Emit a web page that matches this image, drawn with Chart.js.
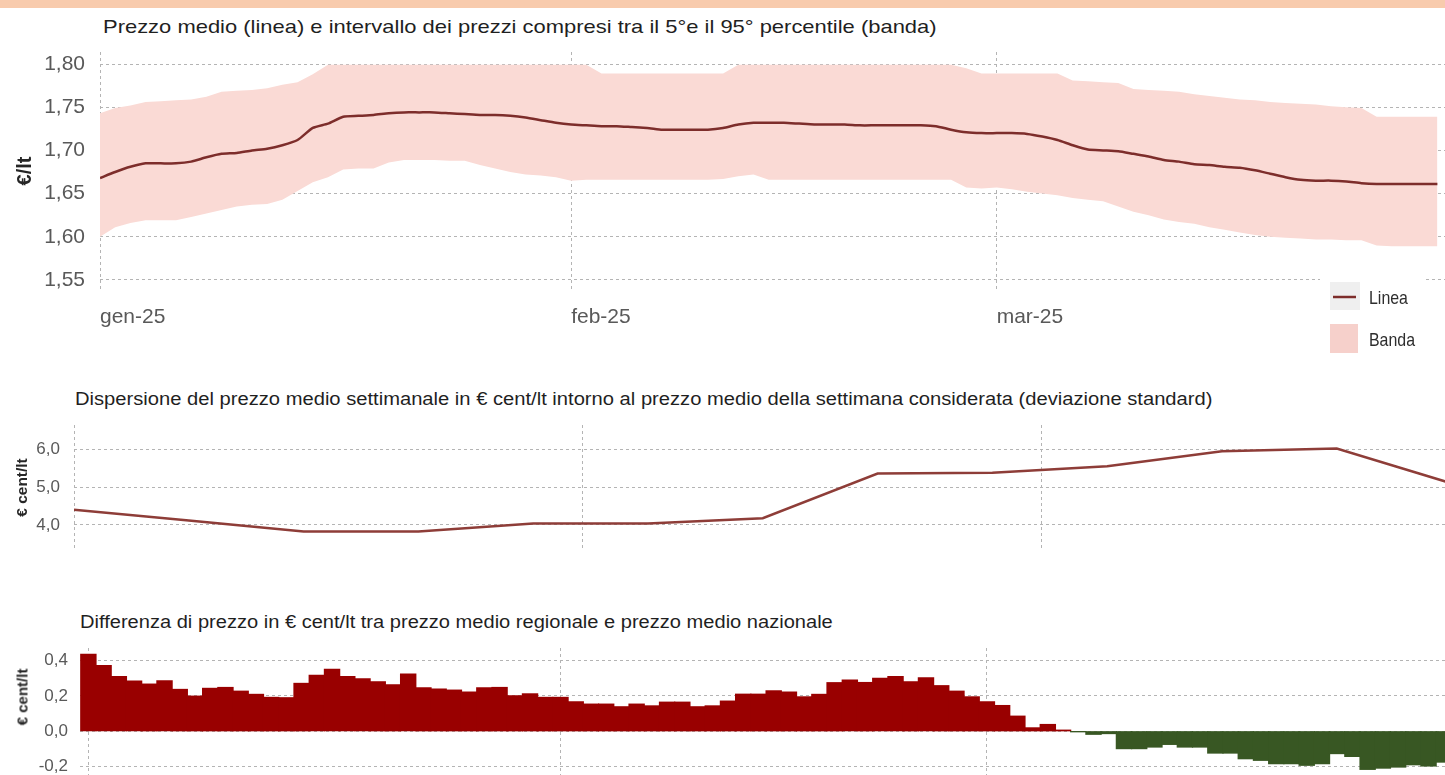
<!DOCTYPE html>
<html lang="it">
<head>
<meta charset="utf-8">
<title>Prezzi medi carburante</title>
<script src="https://cdn.jsdelivr.net/npm/chart.js@4.4.1/dist/chart.umd.min.js"></script>
<style>
  html, body { margin: 0; padding: 0; background: #fff; overflow: hidden; }
  body { width: 1445px; height: 775px; position: relative; font-family: "Liberation Sans", Arial, sans-serif; }
  .fascia { position: absolute; left: 0; top: 0; width: 1445px; height: 8px; background: #f8cbad; }
  .titolo { position: absolute; color: #1f1f1f; white-space: nowrap; line-height: 22px; transform-origin: 0 50%; }
  #t1 { left: 103px; top: 16px; font-size: 19px; transform: scaleX(1.155); }
  #t2 { left: 75px; top: 388px; font-size: 17.5px; transform: scaleX(1.152); }
  #t3 { left: 80px; top: 611px; font-size: 17.5px; transform: scaleX(1.147); }
  .asse { position: absolute; font-weight: bold; color: #262626; white-space: nowrap; transform: translate(-50%, -50%) rotate(-90deg); }
  #a3 { left: 22px; top: 697px; font-size: 15px; }
  .box { position: absolute; left: 0; width: 1445px; }
  #b1 { top: 40px; height: 330px; }
  #b2 { top: 415px; height: 145px; }
  #b3 { top: 640px; height: 135px; }
</style>
</head>
<body>
<div class="fascia"></div>
<div class="titolo" id="t1">Prezzo medio (linea) e intervallo dei prezzi compresi tra il 5°e il 95° percentile (banda)</div>
<div class="box" id="b1"><canvas id="prezzo"></canvas></div>
<div class="titolo" id="t2">Dispersione del prezzo medio settimanale in € cent/lt intorno al prezzo medio della settimana considerata (deviazione standard)</div>
<div class="box" id="b2"><canvas id="dispersione"></canvas></div>
<div class="titolo" id="t3">Differenza di prezzo in € cent/lt tra prezzo medio regionale e prezzo medio nazionale</div>
<div class="box" id="b3"><canvas id="differenza"></canvas></div>
<div class="asse" id="a3">€ cent/lt</div>

<script>
// inizio mese (giorni dal 1 gennaio) ed etichette
const giorniMese = [0, 31, 59];
const etichetteMese = ['gen-25', 'feb-25', 'mar-25'];

const tickPrezzo = [1.55, 1.60, 1.65, 1.70, 1.75, 1.80];
const tickDispersione = [4, 5, 6];
const tickDifferenza = [-0.2, 0, 0.2, 0.4];

// prezzo medio giornaliero €/lt, 1 gen - 30 mar
const prezzoMedio = [
  1.668, 1.675, 1.681, 1.685, 1.685, 1.685, 1.687, 1.692, 1.696, 1.697,
  1.700, 1.702, 1.706, 1.712, 1.726, 1.731, 1.739, 1.740, 1.741, 1.743,
  1.744, 1.744, 1.744, 1.743, 1.742, 1.741, 1.741, 1.740, 1.738, 1.735,
  1.732, 1.730, 1.729, 1.728, 1.728, 1.727, 1.726, 1.724, 1.724, 1.724,
  1.724, 1.726, 1.730, 1.732, 1.732, 1.732, 1.731, 1.730, 1.730, 1.730,
  1.729, 1.729, 1.729, 1.729, 1.729, 1.728, 1.724, 1.721, 1.720, 1.720,
  1.720, 1.719, 1.716, 1.712, 1.706, 1.701, 1.700, 1.699, 1.696, 1.693,
  1.689, 1.687, 1.684, 1.683, 1.681, 1.680, 1.677, 1.673, 1.669, 1.666,
  1.665, 1.665, 1.664, 1.662, 1.661, 1.661, 1.661, 1.661, 1.661
];

// 95° percentile
const banda95 = [
  1.743, 1.749, 1.752, 1.756, 1.757, 1.758, 1.759, 1.762, 1.768, 1.769,
  1.770, 1.772, 1.776, 1.779, 1.788, 1.799, 1.799, 1.799, 1.799, 1.799,
  1.799, 1.799, 1.799, 1.799, 1.799, 1.799, 1.799, 1.799, 1.799, 1.799,
  1.799, 1.799, 1.799, 1.789, 1.789, 1.789, 1.789, 1.789, 1.789, 1.789,
  1.789, 1.789, 1.799, 1.799, 1.799, 1.799, 1.799, 1.799, 1.799, 1.799,
  1.799, 1.799, 1.799, 1.799, 1.799, 1.799, 1.799, 1.795, 1.789, 1.789,
  1.789, 1.789, 1.789, 1.789, 1.781, 1.780, 1.779, 1.778, 1.771, 1.770,
  1.769, 1.768, 1.765, 1.763, 1.761, 1.759, 1.758, 1.756, 1.755, 1.754,
  1.753, 1.751, 1.750, 1.749, 1.739, 1.739, 1.739, 1.739, 1.739
];

// 5° percentile
const banda5 = [
  1.600, 1.611, 1.616, 1.619, 1.619, 1.619, 1.623, 1.627, 1.631, 1.635,
  1.637, 1.638, 1.643, 1.653, 1.663, 1.669, 1.678, 1.679, 1.679, 1.686,
  1.689, 1.689, 1.689, 1.688, 1.688, 1.683, 1.679, 1.675, 1.672, 1.671,
  1.669, 1.665, 1.666, 1.666, 1.666, 1.666, 1.666, 1.666, 1.666, 1.666,
  1.666, 1.667, 1.670, 1.672, 1.666, 1.666, 1.666, 1.666, 1.666, 1.666,
  1.666, 1.666, 1.666, 1.666, 1.666, 1.666, 1.666, 1.657, 1.656, 1.657,
  1.655, 1.652, 1.650, 1.648, 1.645, 1.643, 1.641, 1.635, 1.629, 1.625,
  1.620, 1.617, 1.615, 1.611, 1.608, 1.605, 1.602, 1.600, 1.599, 1.598,
  1.597, 1.597, 1.596, 1.596, 1.590, 1.589, 1.589, 1.589, 1.589
];

// deviazione standard settimanale (€ cent/lt)
const settimane = [0, 7, 14, 21, 28, 35, 42, 49, 56, 63, 70, 77, 84];
const deviazioneStd = [4.40, 4.12, 3.83, 3.83, 4.04, 4.04, 4.18, 5.36, 5.38, 5.55, 5.95, 6.02, 5.10];

// differenza regionale - nazionale (€ cent/lt), 1 gen - 31 mar
const differenza = [
  0.434, 0.370, 0.308, 0.283, 0.266, 0.285, 0.236, 0.198, 0.242, 0.247,
  0.226, 0.208, 0.191, 0.189, 0.270, 0.315, 0.349, 0.308, 0.296, 0.279,
  0.262, 0.323, 0.245, 0.238, 0.232, 0.221, 0.245, 0.247, 0.200, 0.211,
  0.191, 0.191, 0.166, 0.153, 0.153, 0.138, 0.153, 0.143, 0.164, 0.164,
  0.138, 0.143, 0.170, 0.209, 0.209, 0.228, 0.221, 0.194, 0.208, 0.274,
  0.289, 0.275, 0.298, 0.308, 0.279, 0.302, 0.257, 0.226, 0.194, 0.166,
  0.145, 0.085, 0.019, 0.038, 0.006, -0.002, -0.017, -0.013, -0.098, -0.098,
  -0.089, -0.074, -0.089, -0.089, -0.123, -0.123, -0.155, -0.164, -0.183, -0.183,
  -0.192, -0.183, -0.126, -0.142, -0.215, -0.208, -0.202, -0.189, -0.196, -0.174
];

const ROSSO_LINEA = '#7d2d2b';
const ROSA_BANDA = '#fadad5';
const GRIGIO_TICK = '#595959';
const FONT = "'Liberation Sans', Arial, sans-serif";

Chart.defaults.font.family = FONT;
Chart.defaults.animation = false;

const xy = (xs, ys) => ys.map((y, i) => ({ x: xs[i], y }));
const giorni = prezzoMedio.map((_, i) => i);
const giorniDiff = differenza.map((_, i) => i);

const senzaPadding = s => { s.paddingTop = 0; s.paddingBottom = 0; s.paddingLeft = 0; s.paddingRight = 0; };

const grigliaTratteggiata = { color: '#b4b4b4', lineWidth: 1, drawTicks: false, offset: false };
const bordoTratteggiato = { display: false, dash: [3, 3] };

function asseMesi(min, max, altezza, etichette) {
  return {
    type: 'linear',
    min, max,
    offset: false,
    afterBuildTicks: s => { s.ticks = giorniMese.map(v => ({ value: v })); },
    afterFit: s => { s.height = altezza; senzaPadding(s); },
    grid: grigliaTratteggiata,
    border: bordoTratteggiato,
    ticks: {
      display: etichette,
      align: 'start',
      autoSkip: false,
      maxRotation: 0,
      padding: 15,
      color: GRIGIO_TICK,
      font: { size: 21 },
      callback: v => etichetteMese[giorniMese.indexOf(v)]
    }
  };
}

function asseValori(min, max, tick, decimali, larghezza, cfg) {
  return {
    min, max,
    afterBuildTicks: s => { s.ticks = tick.map(v => ({ value: v })); },
    afterFit: s => { s.width = larghezza; senzaPadding(s); },
    grid: grigliaTratteggiata,
    border: bordoTratteggiato,
    ticks: {
      padding: cfg.padding,
      color: GRIGIO_TICK,
      font: { size: cfg.size },
      callback: v => v.toFixed(decimali).replace('.', ',')
    },
    title: {
      display: !!cfg.titolo,
      text: cfg.titolo,
      color: '#262626',
      font: { size: cfg.titoloSize, weight: 'bold' },
      padding: { top: cfg.titoloPad, bottom: 0 }
    }
  };
}

// legenda disegnata dentro l'area del grafico, in basso a destra
const legendaPrezzo = {
  id: 'legendaPrezzo',
  afterDraw(chart) {
    const { ctx, chartArea: a } = chart;
    const x = a.right, y = a.bottom;
    ctx.save();
    ctx.fillStyle = '#ffffff';
    ctx.fillRect(x - 125, y - 12, 103, 82);
    ctx.fillStyle = '#efefef';
    ctx.fillRect(x - 115, y - 8, 30, 28);
    ctx.strokeStyle = ROSSO_LINEA;
    ctx.lineWidth = 2.5;
    ctx.beginPath();
    ctx.moveTo(x - 112, y + 7);
    ctx.lineTo(x - 89, y + 7);
    ctx.stroke();
    ctx.fillStyle = '#f6d0cb';
    ctx.fillRect(x - 115, y + 34, 28, 29);
    ctx.fillStyle = '#2e2e2e';
    ctx.font = '18.5px ' + FONT;
    ctx.textBaseline = 'middle';
    // testo stretto come nell'Arial Narrow
    [['Linea', y + 9], ['Banda', y + 51]].forEach(([t, ty]) => {
      ctx.save();
      ctx.translate(x - 76, ty);
      ctx.scale(0.86, 1);
      ctx.fillText(t, 0, 0);
      ctx.restore();
    });
    ctx.restore();
  }
};

const comuni = {
  responsive: true,
  maintainAspectRatio: false,
  events: [],
  plugins: { legend: { display: false }, tooltip: { enabled: false } }
};

new Chart(document.getElementById('prezzo'), {
  type: 'line',
  data: {
    datasets: [
      {
        label: 'Linea',
        data: xy(giorni, prezzoMedio),
        borderColor: ROSSO_LINEA,
        borderWidth: 2.5,
        pointRadius: 0,
        tension: 0.2,
        fill: false
      },
      {
        label: 'Banda',
        data: xy(giorni, banda95),
        borderWidth: 0,
        borderColor: 'rgba(0,0,0,0)',
        backgroundColor: ROSA_BANDA,
        pointRadius: 0,
        fill: '+1'
      },
      {
        label: '5° percentile',
        data: xy(giorni, banda5),
        borderWidth: 0,
        borderColor: 'rgba(0,0,0,0)',
        pointRadius: 0,
        fill: false
      }
    ]
  },
  options: {
    ...comuni,
    layout: { padding: { top: 12, right: 0, bottom: 0, left: 0 } },
    scales: {
      x: asseMesi(0, 88.5, 80, true),
      y: asseValori(1.5384, 1.8139, tickPrezzo, 2, 100,
        { padding: 15, size: 21, titolo: '€/lt', titoloSize: 20, titoloPad: 13 })
    }
  },
  plugins: [legendaPrezzo]
});

new Chart(document.getElementById('dispersione'), {
  type: 'line',
  data: {
    datasets: [{
      label: 'Deviazione standard',
      data: xy(settimane, deviazioneStd),
      borderColor: '#8e3d38',
      borderWidth: 2.5,
      pointRadius: 0,
      tension: 0,
      fill: false
    }]
  },
  options: {
    ...comuni,
    layout: { padding: { top: 10, right: 0, bottom: 10, left: 0 } },
    scales: {
      x: asseMesi(0, 83.6, 0, false),
      y: asseValori(3.34, 6.64, tickDispersione, 1, 74,
        { padding: 14, size: 17, titolo: '€ cent/lt', titoloSize: 15.5, titoloPad: 13 })
    }
  }
});

new Chart(document.getElementById('differenza'), {
  type: 'bar',
  data: {
    datasets: [{
      label: 'Differenza',
      data: xy(giorniDiff, differenza),
      backgroundColor: differenza.map(v => v >= 0 ? '#990000' : '#385723'),
      borderWidth: 0,
      inflateAmount: 0.6,
      barPercentage: 1,
      categoryPercentage: 1
    }]
  },
  options: {
    ...comuni,
    layout: { padding: { top: 8, right: 0, bottom: 0, left: 0 } },
    scales: {
      x: asseMesi(-0.55, 89.08, 0, false),
      y: asseValori(-0.247, 0.47, tickDifferenza, 1, 80,
        { padding: 12, size: 17, titolo: '' })
    }
  }
});
</script>
</body>
</html>
